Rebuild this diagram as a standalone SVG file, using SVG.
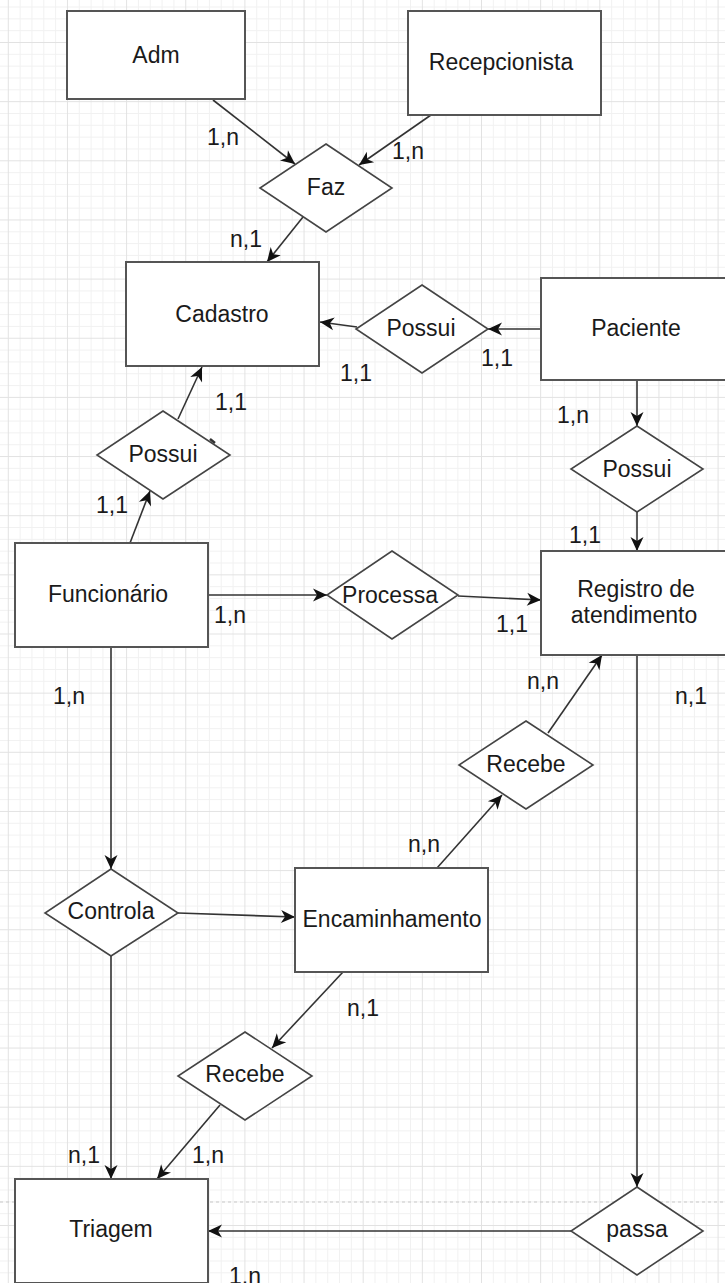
<svg xmlns="http://www.w3.org/2000/svg" width="725" height="1283" viewBox="0 0 725 1283">
<style>
.ent{fill:#ffffff;stroke:#555555;stroke-width:2}
.rel{fill:#ffffff;stroke:#444444;stroke-width:1.6}
.nt{font-family:"Liberation Sans",Arial,sans-serif;font-size:23px;fill:#1a1a1a;text-anchor:middle}
.lbl{font-family:"Liberation Sans",Arial,sans-serif;font-size:23px;fill:#1a1a1a}
.con path{fill:none;stroke:#333333;stroke-width:1.6;marker-end:url(#arr)}
</style>
<defs>
<pattern id="grid" patternUnits="userSpaceOnUse" x="7.8" y="42" width="59.15" height="59.15">
<rect x="11.83" y="0" width="1" height="59.15" fill="#f1f1f1"/>
<rect x="23.66" y="0" width="1" height="59.15" fill="#f1f1f1"/>
<rect x="35.49" y="0" width="1" height="59.15" fill="#f1f1f1"/>
<rect x="47.32" y="0" width="1" height="59.15" fill="#f1f1f1"/>
<rect x="0" y="11.83" width="59.15" height="1" fill="#f1f1f1"/>
<rect x="0" y="23.66" width="59.15" height="1" fill="#f1f1f1"/>
<rect x="0" y="35.49" width="59.15" height="1" fill="#f1f1f1"/>
<rect x="0" y="47.32" width="59.15" height="1" fill="#f1f1f1"/>
<rect x="0" y="0" width="1" height="59.15" fill="#e2e2e2"/>
<rect x="0" y="0" width="59.15" height="1" fill="#e2e2e2"/>
</pattern>
<marker id="arr" markerUnits="userSpaceOnUse" viewBox="-15 -8 16 16" refX="0" refY="0" markerWidth="16" markerHeight="16" orient="auto">
<path d="M0,0 L-14,-6.5 L-10,0 L-14,6.5 Z" fill="#111111"/>
</marker>
</defs>
<g id="background">
<rect x="0" y="0" width="725" height="1283" fill="#ffffff"/>
<rect x="0" y="0" width="725" height="1283" fill="url(#grid)"/>
<line x1="0" y1="1202" x2="725" y2="1202" stroke="#c8c8c8" stroke-width="1" stroke-dasharray="3,3"/>
</g>
<g id="connectors" class="con">
<path d="M213,100 L295,164"/>
<path d="M431,115 L359,165"/>
<path d="M303,217 L267,262"/>
<path d="M541,329 L488,329"/>
<path d="M357,327 L320,322"/>
<path d="M178,419 L202,367"/>
<path d="M130,543 L150,491"/>
<path d="M208,595 L327,595"/>
<path d="M458,596 L541,600"/>
<path d="M637,380 L637,426"/>
<path d="M637,512 L637,551"/>
<path d="M111,647 L111,869"/>
<path d="M178,913 L295,917"/>
<path d="M437,868 L502,795"/>
<path d="M548,733 L602,655"/>
<path d="M637,655 L637,1187"/>
<path d="M571,1231 L208,1231"/>
<path d="M111,956 L111,1179"/>
<path d="M343,972 L272,1048"/>
<path d="M220,1105 L157,1179"/>
</g>
<g id="adm"><rect class="ent" x="67" y="11" width="178" height="88"/><text class="nt" x="156" y="63">Adm</text></g>
<g id="recepcionista"><rect class="ent" x="408" y="11" width="193" height="104"/><text class="nt" x="501" y="70">Recepcionista</text></g>
<g id="faz"><polygon class="rel" points="326,144 392,188 326,232 260,188"/><text class="nt" x="326" y="195">Faz</text></g>
<g id="cadastro"><rect class="ent" x="126" y="262" width="193" height="104"/><text class="nt" x="222" y="322">Cadastro</text></g>
<g id="possui-cadastro"><polygon class="rel" points="422,285 488,329 422,373 356,329"/><text class="nt" x="421" y="336">Possui</text></g>
<g id="paciente"><rect class="ent" x="541" y="278" width="192" height="102"/><text class="nt" x="636" y="336">Paciente</text></g>
<g id="possui-funcionario"><polygon class="rel" points="163,411 230,455 163,499 97,455"/><path d="M210,439 L215,443" stroke="#333333" stroke-width="2.5" fill="none"/><text class="nt" x="163" y="462">Possui</text></g>
<g id="possui-registro"><polygon class="rel" points="637,426 703,469 637,512 571,469"/><text class="nt" x="637" y="477">Possui</text></g>
<g id="funcionario"><rect class="ent" x="15" y="543" width="193" height="104"/><text class="nt" x="108" y="602">Funcionário</text></g>
<g id="processa"><polygon class="rel" points="392,551 458,595 392,639 327,595"/><text class="nt" x="390" y="603">Processa</text></g>
<g id="registro"><rect class="ent" x="541" y="551" width="192" height="104"/><text class="nt" x="636" y="597">Registro de</text><text class="nt" x="634" y="623">atendimento</text></g>
<g id="recebe-registro"><polygon class="rel" points="526,721 593,765 526,809 459,765"/><text class="nt" x="526" y="772">Recebe</text></g>
<g id="controla"><polygon class="rel" points="111,869 178,913 111,956 45,913"/><text class="nt" x="111" y="919">Controla</text></g>
<g id="encaminhamento"><rect class="ent" x="295" y="868" width="193" height="104"/><text class="nt" x="392" y="927">Encaminhamento</text></g>
<g id="recebe-triagem"><polygon class="rel" points="245,1032 312,1076 245,1120 178,1076"/><text class="nt" x="245" y="1082">Recebe</text></g>
<g id="triagem"><rect class="ent" x="15" y="1179" width="193" height="104"/><text class="nt" x="111" y="1237">Triagem</text></g>
<g id="passa"><polygon class="rel" points="637,1187 703,1231 637,1275 571,1231"/><text class="nt" x="637" y="1237">passa</text></g>
<g id="labels">
<text class="lbl" x="207" y="145">1,n</text>
<text class="lbl" x="392" y="159">1,n</text>
<text class="lbl" x="230" y="247">n,1</text>
<text class="lbl" x="340" y="381">1,1</text>
<text class="lbl" x="481" y="366">1,1</text>
<text class="lbl" x="215" y="410">1,1</text>
<text class="lbl" x="96" y="513">1,1</text>
<text class="lbl" x="214" y="623">1,n</text>
<text class="lbl" x="496" y="632">1,1</text>
<text class="lbl" x="557" y="423">1,n</text>
<text class="lbl" x="569" y="543">1,1</text>
<text class="lbl" x="53" y="704">1,n</text>
<text class="lbl" x="527" y="689">n,n</text>
<text class="lbl" x="675" y="704">n,1</text>
<text class="lbl" x="408" y="852">n,n</text>
<text class="lbl" x="347" y="1016">n,1</text>
<text class="lbl" x="68" y="1163">n,1</text>
<text class="lbl" x="192" y="1163">1,n</text>
<text class="lbl" x="229" y="1284">1,n</text>
</g>
</svg>
